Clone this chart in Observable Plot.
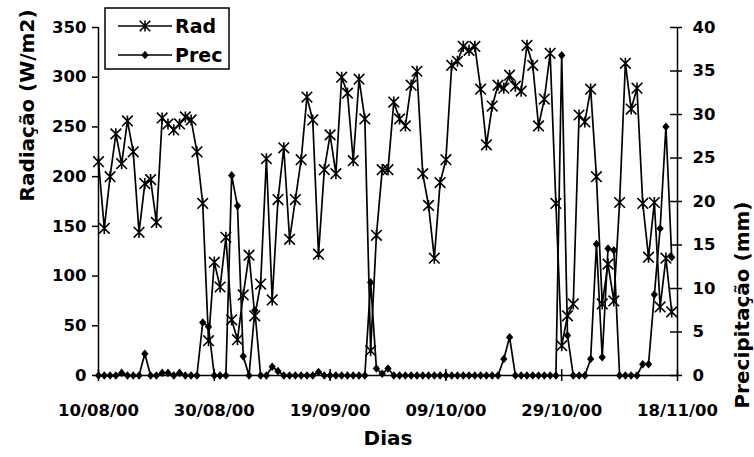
<!DOCTYPE html>
<html>
<head>
<meta charset="utf-8">
<script src="https://cdn.jsdelivr.net/npm/d3@7"></script>
<script src="https://cdn.jsdelivr.net/npm/@observablehq/plot@0.6"></script>
<style>
  html, body { margin: 0; padding: 0; background: white; }
  #wrap { position: relative; width: 754px; height: 457px; }
  #legend { position: absolute; left: 0; top: 0; }
</style>
</head>
<body>
<div id="wrap"></div>
<script>
// ---- data ----
const tickLabels = ["10/08/00", "30/08/00", "19/09/00", "09/10/00", "29/10/00", "18/11/00"];
const radTicks = [0, 50, 100, 150, 200, 250, 300, 350];
const precTicks = [0, 5, 10, 15, 20, 25, 30, 35, 40];
const rad = [
  215, 148, 200, 243, 213, 256, 225, 144, 193, 197,
  154, 259, 253, 247, 253, 260, 257, 225, 173, 35,
  114, 89, 139, 56, 36, 81, 121, 60, 92, 218,
  76, 177, 229, 137, 177, 217, 280, 257, 122, 207,
  242, 203, 300, 284, 216, 298, 258, 25, 141, 207,
  207, 275, 258, 251, 292, 306, 203, 171, 118, 194,
  217, 312, 316, 331, 327, 331, 288, 232, 271, 292,
  289, 302, 291, 286, 332, 312, 251, 278, 324, 173,
  30, 60, 72, 262, 255, 288, 200, 72, 112, 75,
  174, 314, 268, 289, 173, 119, 174, 69, 118, 64
];
const prec = [
  0, 0, 0, 0, 0.3, 0, 0, 0, 2.5, 0,
  0, 0.3, 0.3, 0, 0.3, 0, 0, 0, 6.1, 5.6,
  0, 0, 0, 23.0, 19.5, 2.2, 0, 7.5, 0, 0,
  1.0, 0.5, 0, 0, 0, 0, 0, 0, 0.4, 0,
  0, 0, 0, 0, 0, 0, 0, 10.7, 0.8, 0.2,
  0.8, 0, 0, 0, 0, 0, 0, 0, 0, 0,
  0, 0, 0, 0, 0, 0, 0, 0, 0, 0,
  1.9, 4.4, 0, 0, 0, 0, 0, 0, 0, 0,
  36.8, 4.6, 0, 0, 0, 1.9, 15.1, 2.1, 14.6, 14.4,
  0, 0, 0, 0, 1.3, 1.3, 9.3, 16.9, 28.6, 13.6
];

// ---- derived ----
const parse = d3.utcParse("%d/%m/%y");
const tickDates = tickLabels.map(parse);
const xStart = tickDates[0], xEnd = tickDates[tickDates.length - 1];
const dias = d3.utcDay.range(xStart, xEnd);
const k = 350 / 40; // mm -> W/m2 axis equivalence
const rows = dias.map((d, i) => ({dia: d, rad: rad[i], prec: prec[i]}));
const fmt = d3.utcFormat("%d/%m/%y");

const asterisk = {
  draw(ctx, size) {
    const r = Math.sqrt(size / Math.PI);
    ctx.moveTo(-r, -r); ctx.lineTo(r, r);
    ctx.moveTo(r, -r); ctx.lineTo(-r, r);
    ctx.moveTo(0, -r * 1.05); ctx.lineTo(0, r * 1.05);
  }
};
const diamond = {
  draw(ctx, size) {
    const r = Math.sqrt(size / Math.PI);
    ctx.moveTo(0, -r); ctx.lineTo(r * 0.85, 0); ctx.lineTo(0, r); ctx.lineTo(-r * 0.85, 0); ctx.closePath();
  }
};

const day = 864e5;
const chart = Plot.plot({
  width: 754,
  height: 457,
  marginLeft: 98,
  marginRight: 77,
  marginTop: 27,
  marginBottom: 82,
  style: {fontFamily: "DejaVu Sans", fontWeight: "bold", fontSize: "16.5px", color: "black", background: "white", overflow: "visible"},
  x: {type: "utc", domain: [xStart, xEnd]},
  y: {domain: [0, 350]},
  marks: [
    Plot.axisX(tickDates, {tickSize: 6, tickPadding: 22.6, tickFormat: fmt, label: null, strokeWidth: 1.5, fontSize: 16.5, fontWeight: "bold"}),
    Plot.ruleX(tickDates, {x: d => d, y1: 0, y2: 6, strokeWidth: 1.5}),
    Plot.axisY(radTicks, {anchor: "left", tickSize: 6, tickPadding: 6, label: null, strokeWidth: 1.5, fontSize: 16.5, fontWeight: "bold"}),
    Plot.axisY(precTicks.map(v => v * k), {anchor: "right", tickSize: 4, tickPadding: 11, tickFormat: v => Math.round(v / k), label: null, strokeWidth: 1.5, fontSize: 16.5, fontWeight: "bold"}),
    Plot.ruleY(precTicks, {y: v => v * k, x1: () => new Date(+xEnd - 1.2 * day), x2: () => xEnd, strokeWidth: 1.5}),
    Plot.ruleX([xStart, xEnd], {strokeWidth: 1.5}),
    Plot.ruleY([0], {strokeWidth: 1.5}),
    Plot.line(rows, {x: "dia", y: "rad", stroke: "black", strokeWidth: 1.7}),
    Plot.dot(rows, {x: "dia", y: "rad", symbol: asterisk, r: 5.3, stroke: "black", fill: "none", strokeWidth: 1.6}),
    Plot.line(rows, {x: "dia", y: d => d.prec * k, stroke: "black", strokeWidth: 1.7}),
    Plot.dot(rows, {x: "dia", y: d => d.prec * k, symbol: diamond, r: 4.3, fill: "black", stroke: "none"}),
    Plot.text(["Radiação (W/m2)"], {frameAnchor: "left", dx: -71, rotate: -90, fontSize: 20, fontWeight: "bold"}),
    Plot.text(["Precipitação (mm)"], {frameAnchor: "right", dx: 65, rotate: -90, fontSize: 20, fontWeight: "bold"}),
    Plot.text(["Dias"], {frameAnchor: "bottom", dy: 69.5, fontSize: 20, fontWeight: "bold"})
  ]
});
const wrap = document.getElementById("wrap");
wrap.appendChild(chart);

// ---- legend overlay ----
const series = [
  {name: "Rad", symbol: asterisk, r: 5.3, fill: "none", stroke: "black"},
  {name: "Prec", symbol: diamond, r: 4.3, fill: "black", stroke: "none"}
];
const lg = d3.create("svg").attr("id", "legend").attr("width", 754).attr("height", 80)
  .style("font-family", "DejaVu Sans").style("font-weight", "bold");
lg.append("rect").attr("x", 105).attr("y", 8).attr("width", 124).attr("height", 61)
  .attr("fill", "white").attr("stroke", "black").attr("stroke-width", 1.5);
series.forEach((s, i) => {
  const cy = 26 + i * 29;
  lg.append("line").attr("x1", 118).attr("x2", 172).attr("y1", cy).attr("y2", cy)
    .attr("stroke", "black").attr("stroke-width", 1.7);
  lg.append("path").attr("transform", `translate(145,${cy})`)
    .attr("d", d3.symbol(s.symbol, s.r * s.r * Math.PI)())
    .attr("fill", s.fill).attr("stroke", s.stroke).attr("stroke-width", 1.6);
  lg.append("text").attr("x", 175).attr("y", cy + 7).attr("font-size", 19).text(s.name);
});
wrap.appendChild(lg.node());
</script>
</body>
</html>
